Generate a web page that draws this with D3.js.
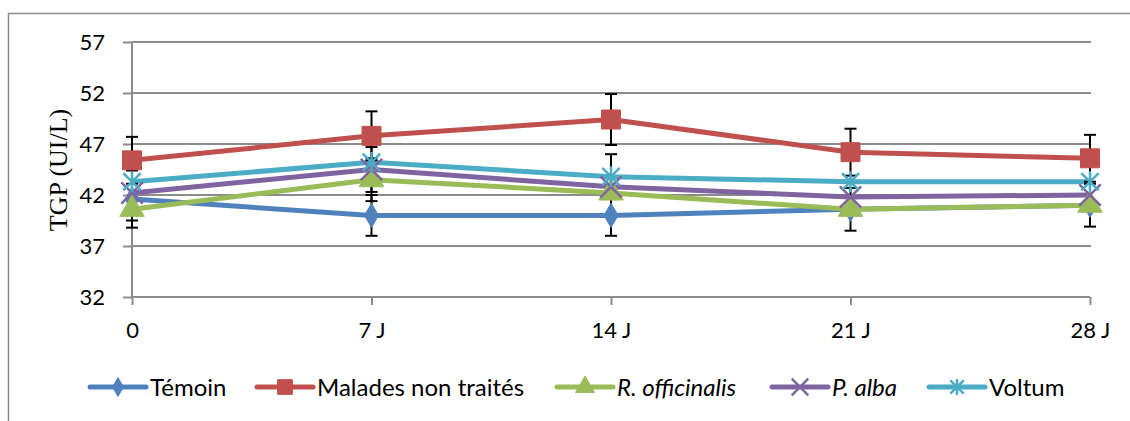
<!DOCTYPE html>
<html>
<head>
<meta charset="utf-8">
<title>TGP</title>
<script src="https://d3js.org/d3.v7.min.js"></script>
<style>
  body { margin: 0; background: #fff; }
  svg { display: block; }
  .tick text { font-family: Lato, sans-serif; font-size: 22px; fill: #000; }
  .legend text { font-family: Lato, sans-serif; font-size: 24px; fill: #000; }
</style>
</head>
<body>
<svg width="1130" height="421"></svg>
<script>
// data
var days = ["0", "7 J", "14 J", "21 J", "28 J"];
var yTicks = [32, 37, 42, 47, 52, 57];

var temoin   = [41.6, 40.0, 40.0, 40.6, 41.0];
var malades  = [45.4, 47.8, 49.4, 46.2, 45.6];
var rOffic   = [40.6, 43.5, 42.2, 40.6, 41.0];
var pAlba    = [42.2, 44.5, 42.8, 41.8, 42.0];
var voltum   = [43.3, 45.2, 43.8, 43.3, 43.3];

// error bars (0 = not drawn)
var errTemoin  = [2.8, 2.0, 2.0, 0, 0];
var errMalades = [2.3, 2.4, 2.5, 2.3, 2.3];
var errROffic  = [1.1, 2.1, 0, 2.1, 2.1];
var errPAlba   = [0, 2.2, 0, 0, 0];
var errVoltum  = [0, 0, 2.2, 0, 0];

var seriesNames = ["Témoin", "Malades non traités", "R. officinalis", "P. alba", "Voltum"];
var colors = ["#4F81BD", "#C0504D", "#9BBB59", "#8064A2", "#4BACC6"];

// excel-like asterisk: an X with a vertical stroke
var symbolStar = {
  draw: function(ctx, size) {
    var r = Math.sqrt(size) / 2;
    ctx.moveTo(-r, -r); ctx.lineTo(r, r);
    ctx.moveTo(-r, r); ctx.lineTo(r, -r);
    ctx.moveTo(0, -r * 1.2); ctx.lineTo(0, r * 1.2);
  }
};

var series = [
  { name: seriesNames[0], values: temoin,  err: errTemoin,  color: colors[0], sym: d3.symbolDiamond,  size: 170, fill: true },
  { name: seriesNames[1], values: malades, err: errMalades, color: colors[1], sym: d3.symbolSquare,   size: 360, fill: true },
  { name: seriesNames[2], values: rOffic,  err: errROffic,  color: colors[2], sym: d3.symbolTriangle, size: 260, fill: true },
  { name: seriesNames[3], values: pAlba,   err: errPAlba,   color: colors[3], sym: d3.symbolTimes,    size: 300, fill: false },
  { name: seriesNames[4], values: voltum,  err: errVoltum,  color: colors[4], sym: symbolStar,        size: 300, fill: false }
];

var svg = d3.select("svg");

// outer chart border
svg.append("rect")
  .attr("x", 8.5).attr("y", 13.5)
  .attr("width", 1130).attr("height", 430)
  .attr("fill", "none").attr("stroke", "#8c8c8c").attr("stroke-width", 1.5);

var x = d3.scalePoint().domain(days).range([132, 1090]);
var y = d3.scaleLinear().domain([32, 57]).range([297, 42]);

// gridlines
svg.append("g").selectAll("line")
  .data(yTicks.slice(1))
  .join("line")
  .attr("x1", 132).attr("x2", 1091)
  .attr("y1", function(d) { return y(d); })
  .attr("y2", function(d) { return y(d); })
  .attr("stroke", "#8c8c8c").attr("stroke-width", 2);

// y axis
var yAxis = svg.append("g")
  .attr("transform", "translate(132,0)")
  .call(d3.axisLeft(y).tickValues(yTicks).tickSize(9).tickPadding(18).tickFormat(d3.format("d")));
yAxis.selectAll("line, path").attr("stroke", "#8c8c8c").attr("stroke-width", 2);
yAxis.select(".domain").attr("d", "M0," + y(32) + "V" + y(57));

// x axis
var xAxis = svg.append("g")
  .attr("transform", "translate(0," + y(32) + ")")
  .call(d3.axisBottom(x).tickSize(8).tickPadding(17));
xAxis.selectAll("line, path").attr("stroke", "#8c8c8c").attr("stroke-width", 2);
xAxis.select(".domain").attr("d", "M" + x(days[0]) + ",0H" + x(days[4]));

// y title
svg.append("text")
  .attr("transform", "translate(67,170) rotate(-90)")
  .attr("text-anchor", "middle")
  .attr("font-family", "'Liberation Serif', serif")
  .attr("font-size", 26)
  .text("TGP (UI/L)");

var line = d3.line()
  .x(function(d, i) { return x(days[i]); })
  .y(function(d) { return y(d); });

// lines
svg.append("g").selectAll("path")
  .data(series)
  .join("path")
  .attr("d", function(s) { return line(s.values); })
  .attr("fill", "none")
  .attr("stroke", function(s) { return s.color; })
  .attr("stroke-width", 5)
  .attr("stroke-linejoin", "round");

// error bars
var errG = svg.append("g").attr("stroke", "#000").attr("stroke-width", 2);
series.forEach(function(s) {
  s.values.forEach(function(v, i) {
    var e = s.err[i];
    if (!e) return;
    var cx = x(days[i]), y0 = y(v - e), y1 = y(v + e);
    errG.append("line").attr("x1", cx).attr("x2", cx).attr("y1", y0).attr("y2", y1);
    errG.append("line").attr("x1", cx - 6).attr("x2", cx + 6).attr("y1", y0).attr("y2", y0);
    errG.append("line").attr("x1", cx - 6).attr("x2", cx + 6).attr("y1", y1).attr("y2", y1);
  });
});

// markers
function drawMarker(g, s, cx, cy, k) {
  var p = g.append("path")
    .attr("transform", "translate(" + cx + "," + cy + ")")
    .attr("d", d3.symbol().type(s.sym).size(s.size * k)());
  if (s.fill) p.attr("fill", s.color).attr("stroke", s.color).attr("stroke-width", 1);
  else p.attr("fill", "none").attr("stroke", s.color).attr("stroke-width", 2.5);
}
series.forEach(function(s) {
  var g = svg.append("g");
  s.values.forEach(function(v, i) { drawMarker(g, s, x(days[i]), y(v), 1); });
});

// legend
var legendX = [90, 257, 557, 772, 929];
var leg = svg.append("g").attr("class", "legend");
series.forEach(function(s, i) {
  var lx = legendX[i], ly = 387;
  leg.append("line")
    .attr("x1", lx).attr("x2", lx + 56).attr("y1", ly).attr("y2", ly)
    .attr("stroke", s.color).attr("stroke-width", 5).attr("stroke-linecap", "round");
  drawMarker(leg, s, lx + 28, ly, 0.6);
  leg.append("text")
    .attr("x", lx + 60).attr("y", ly + 8.5)
    .attr("font-style", i === 2 || i === 3 ? "italic" : null)
    .text(s.name);
});
</script>
</body>
</html>
